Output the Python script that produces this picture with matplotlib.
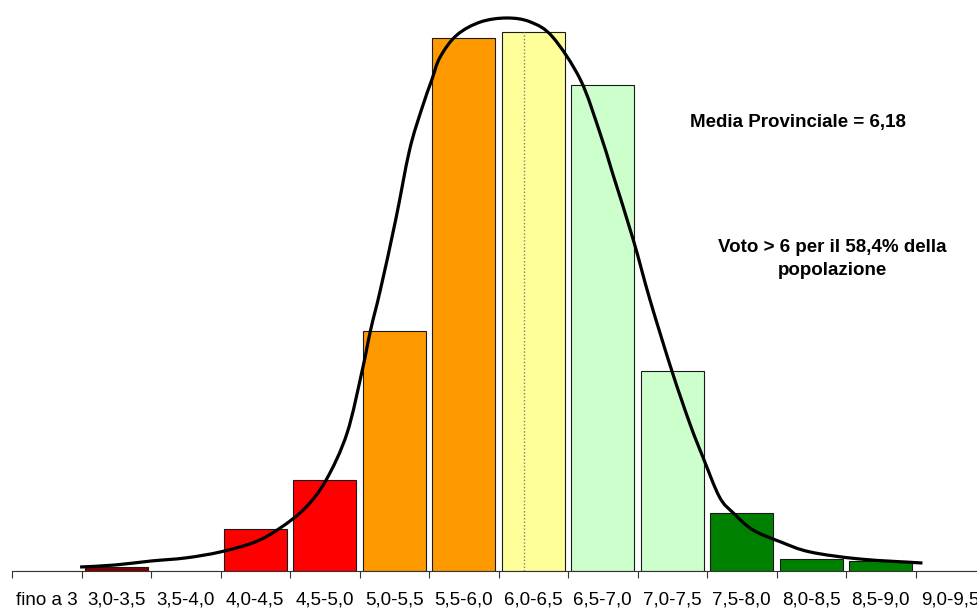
import numpy as np
import matplotlib
matplotlib.use("Agg")
import matplotlib.pyplot as plt
from matplotlib.path import Path
from matplotlib.patches import PathPatch

plt.rcParams["font.family"] = ["Liberation Sans", "DejaVu Sans"]

# -----------------------------
# Dati
# -----------------------------
classi = ["fino a 3", "3,0-3,5", "3,5-4,0", "4,0-4,5", "4,5-5,0", "5,0-5,5",
          "5,5-6,0", "6,0-6,5", "6,5-7,0", "7,0-7,5", "7,5-8,0", "8,0-8,5",
          "8,5-9,0", "9,0-9,5"]
percentuali = [0.0, 0.2, 0.0, 1.9, 4.1, 10.8, 24.0, 24.3, 21.9, 9.0, 2.6, 0.55, 0.45, 0.0]
colori = ["#800000", "#800000", "#800000", "#FF0000", "#FF0000", "#FF9900",
          "#FF9900", "#FFFF99", "#CCFFCC", "#CCFFCC", "#008000", "#008000",
          "#008000", "#008000"]

# curva di distribuzione (voto, %)
curva_voto = [2.99, 3.24, 3.50, 3.75, 4.00, 4.25, 4.43, 4.61, 4.76, 4.91, 5.02,
              5.08, 5.15, 5.26, 5.36, 5.45, 5.52, 5.58, 5.70, 5.87, 6.06, 6.23,
              6.39, 6.59, 6.73, 6.82, 6.97, 7.09, 7.25, 7.38, 7.47, 7.59, 7.69,
              7.83, 8.03, 8.24, 8.60, 9.05]
curva_perc = [0.18, 0.27, 0.45, 0.59, 0.86, 1.31, 1.94, 2.84, 4.10, 6.20, 9.05,
              10.86, 12.66, 15.81, 18.96, 20.86, 22.12, 23.15, 24.14, 24.73, 24.91, 24.73,
              24.05, 22.12, 19.73, 17.93, 14.91, 12.21, 8.96, 6.58, 5.14, 3.33, 2.61,
              1.85, 1.31, 0.86, 0.54, 0.36]

media = 6.18
quota_sopra_6 = "58,4%"


def curva_smussata(xs, ys):
    # linea smussata tipo Excel: Catmull-Rom convertita in Bezier cubiche
    pts = np.column_stack([xs, ys])
    verts = [pts[0]]
    codes = [Path.MOVETO]
    n = len(pts)
    for i in range(n - 1):
        p0 = pts[i - 1] if i > 0 else pts[i]
        p1 = pts[i]
        p2 = pts[i + 1]
        p3 = pts[i + 2] if i + 2 < n else pts[i + 1]
        c1 = p1 + (p2 - p0) / 6.0
        c2 = p2 - (p3 - p1) / 6.0
        verts += [c1, c2, p2]
        codes += [Path.CURVE4] * 3
    return Path(verts, codes)


# -----------------------------
# Grafico
# -----------------------------
fig = plt.figure(figsize=(9.77, 6.08), dpi=100)
ax = fig.add_axes([12 / 977, 37 / 608, 973 / 977, 571 / 608])

limiti = 2.5 + 0.5 * np.arange(len(classi) + 1)
centri = limiti[:-1] + 0.25

ax.bar(centri, percentuali, width=0.45, color=colori,
       edgecolor="#1a1a1a", linewidth=0.8, zorder=2)

# linea della media provinciale
ax.plot([media, media], [0, percentuali[7]], color="#808080",
        linestyle=(0, (1, 1.5)), linewidth=1.0, zorder=3)

ax.add_patch(PathPatch(curva_smussata(curva_voto, curva_perc), facecolor="none",
                       edgecolor="black", linewidth=2.3, zorder=4,
                       capstyle="butt"))

ax.set_xlim(2.5, 9.5)
ax.set_ylim(0, 571 / 22.2)

ax.set_xticks(limiti)
ax.set_xticklabels([])
ax.set_xticks(centri, minor=True)
ax.set_xticklabels(classi, minor=True, fontsize=13.5)
ax.tick_params(axis="x", which="major", length=5, width=0.8, color="#333333")
ax.tick_params(axis="x", which="minor", length=0, pad=15)
ax.set_yticks([])

for s in ["top", "left", "right"]:
    ax.spines[s].set_visible(False)
ax.spines["bottom"].set_color("#333333")
ax.spines["bottom"].set_linewidth(0.8)

fig.text(798 / 977, 1 - 122 / 608, "Media Provinciale = " + str(media).replace(".", ","),
         ha="center", va="center", fontsize=13.5, fontweight="bold")
fig.text(832 / 977, 1 - 259 / 608, "Voto > 6 per il " + quota_sopra_6 + " della\npopolazione",
         ha="center", va="center", fontsize=13.5, fontweight="bold", linespacing=1.4)

fig.savefig("out.png", dpi=100)
